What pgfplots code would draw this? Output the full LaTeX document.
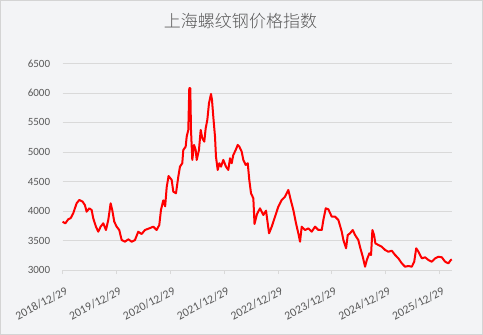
\documentclass[border=0pt]{standalone}
\usepackage{pgfplots}
\pgfplotsset{compat=1.18}
\usepackage{pgfplotstable}
\usepackage{fontspec}
\setmainfont{Carlito}
\newfontfamily\cjk{Noto Sans CJK SC Light}
\definecolor{bgc}{HTML}{F3F4F6}
\definecolor{bordc}{HTML}{D4D4D4}
\definecolor{gridc}{HTML}{D9D9D9}
\definecolor{txtc}{HTML}{595959}
\definecolor{linec}{HTML}{FF0000}
\pgfplotstableread{
t v
0 3819
0.05 3790
0.104 3859
0.15 3880
0.197 3961
0.260 4130
0.309 4187
0.372 4158
0.414 4100
0.446 3988
0.494 4045
0.539 4017
0.569 3876
0.619 3734
0.662 3649
0.706 3734
0.755 3791
0.805 3678
0.848 3847
0.892 4130
0.922 4017
0.959 3819
1.004 3734
1.052 3678
1.097 3508
1.158 3480
1.219 3520
1.283 3480
1.344 3508
1.405 3649
1.468 3610
1.530 3678
1.610 3706
1.684 3734
1.747 3678
1.796 3763
1.827 4017
1.870 4180
1.905 4080
1.933 4400
1.968 4593
2.026 4526
2.056 4328
2.106 4300
2.149 4581
2.180 4751
2.223 4809
2.242 5034
2.286 5090
2.305 5260
2.335 5373
2.353 6080
2.372 6080
2.385 5373
2.409 4865
2.441 5119
2.472 5034
2.491 4865
2.533 5034
2.565 5373
2.595 5232
2.632 5175
2.658 5402
2.688 5542
2.719 5825
2.757 5983
2.775 5881
2.799 5599
2.831 5260
2.849 4920
2.881 4695
2.911 4809
2.942 4751
2.985 4865
3.035 4751
3.078 4695
3.110 4893
3.141 4809
3.171 4949
3.216 5034
3.253 5119
3.283 5090
3.327 5005
3.357 4865
3.401 4780
3.439 4809
3.468 4526
3.500 4300
3.543 4215
3.565 3780
3.612 3950
3.667 4045
3.729 3932
3.779 4005
3.835 3622
3.885 3734
3.946 3904
4.007 4073
4.071 4187
4.132 4243
4.193 4356
4.238 4187
4.286 4017
4.336 3791
4.379 3622
4.411 3480
4.442 3734
4.504 3678
4.565 3706
4.628 3649
4.690 3734
4.751 3678
4.814 3678
4.844 3847
4.888 4045
4.937 4028
5.000 3904
5.061 3904
5.123 3847
5.186 3649
5.216 3508
5.266 3368
5.297 3593
5.340 3622
5.390 3678
5.433 3593
5.494 3508
5.532 3368
5.576 3225
5.619 3056
5.651 3170
5.699 3283
5.730 3254
5.755 3678
5.786 3593
5.810 3452
5.866 3424
5.929 3395
5.991 3339
6.052 3310
6.115 3327
6.177 3254
6.238 3198
6.301 3113
6.362 3056
6.424 3068
6.487 3056
6.532 3141
6.569 3368
6.610 3310
6.673 3198
6.734 3215
6.796 3170
6.859 3141
6.920 3198
6.981 3225
7.045 3215
7.106 3141
7.167 3113
7.212 3170
7.230 3180
}\steel
\begin{document}
\begin{tikzpicture}[x=1pt,y=1pt]
\draw[draw=bordc, fill=bgc, line width=0.8pt] (0.5,0.5) rectangle (482.5,334.5);
\node[text=txtc, font=\cjk\fontsize{17}{19}\selectfont] at (240.5,313.5) {上海螺纹钢价格指数};
\begin{axis}[
  at={(62.7pt,65pt)}, anchor=south west,
  scale only axis, width=389pt, height=206.5pt,
  xmin=0, xmax=7.23, ymin=3000, ymax=6500,
  xtick={0,1,2,3,4,5,6,7},
  xticklabels={2018/12/29,2019/12/29,2020/12/29,2021/12/29,2022/12/29,2023/12/29,2024/12/29,2025/12/29},
  ytick={3000,3500,4000,4500,5000,5500,6000,6500},
  axis lines*=left,
  x axis line style={draw=gridc, line width=0.8pt},
  y axis line style={draw=none},
  ymajorgrids, grid style={draw=gridc, line width=0.8pt},
  xtick style={draw=gridc, line width=0.8pt},
  ytick style={draw=none},
  tick align=outside, major tick length=4pt,
  /pgf/number format/assume math mode=true,
  /pgf/number format/1000 sep={},
  tick label style={text=txtc, font=\fontsize{11}{13}\selectfont},
  yticklabel style={xshift=-5pt},
  xticklabel style={rotate=28, anchor=east, yshift=-16pt, xshift=-0.5pt, font=\fontsize{11.8}{13}\selectfont},
  clip=false,
]
\addplot[linec, line width=2pt, line join=round, no markers] table[x=t, y=v] {\steel};
\end{axis}
\end{tikzpicture}
\end{document}
